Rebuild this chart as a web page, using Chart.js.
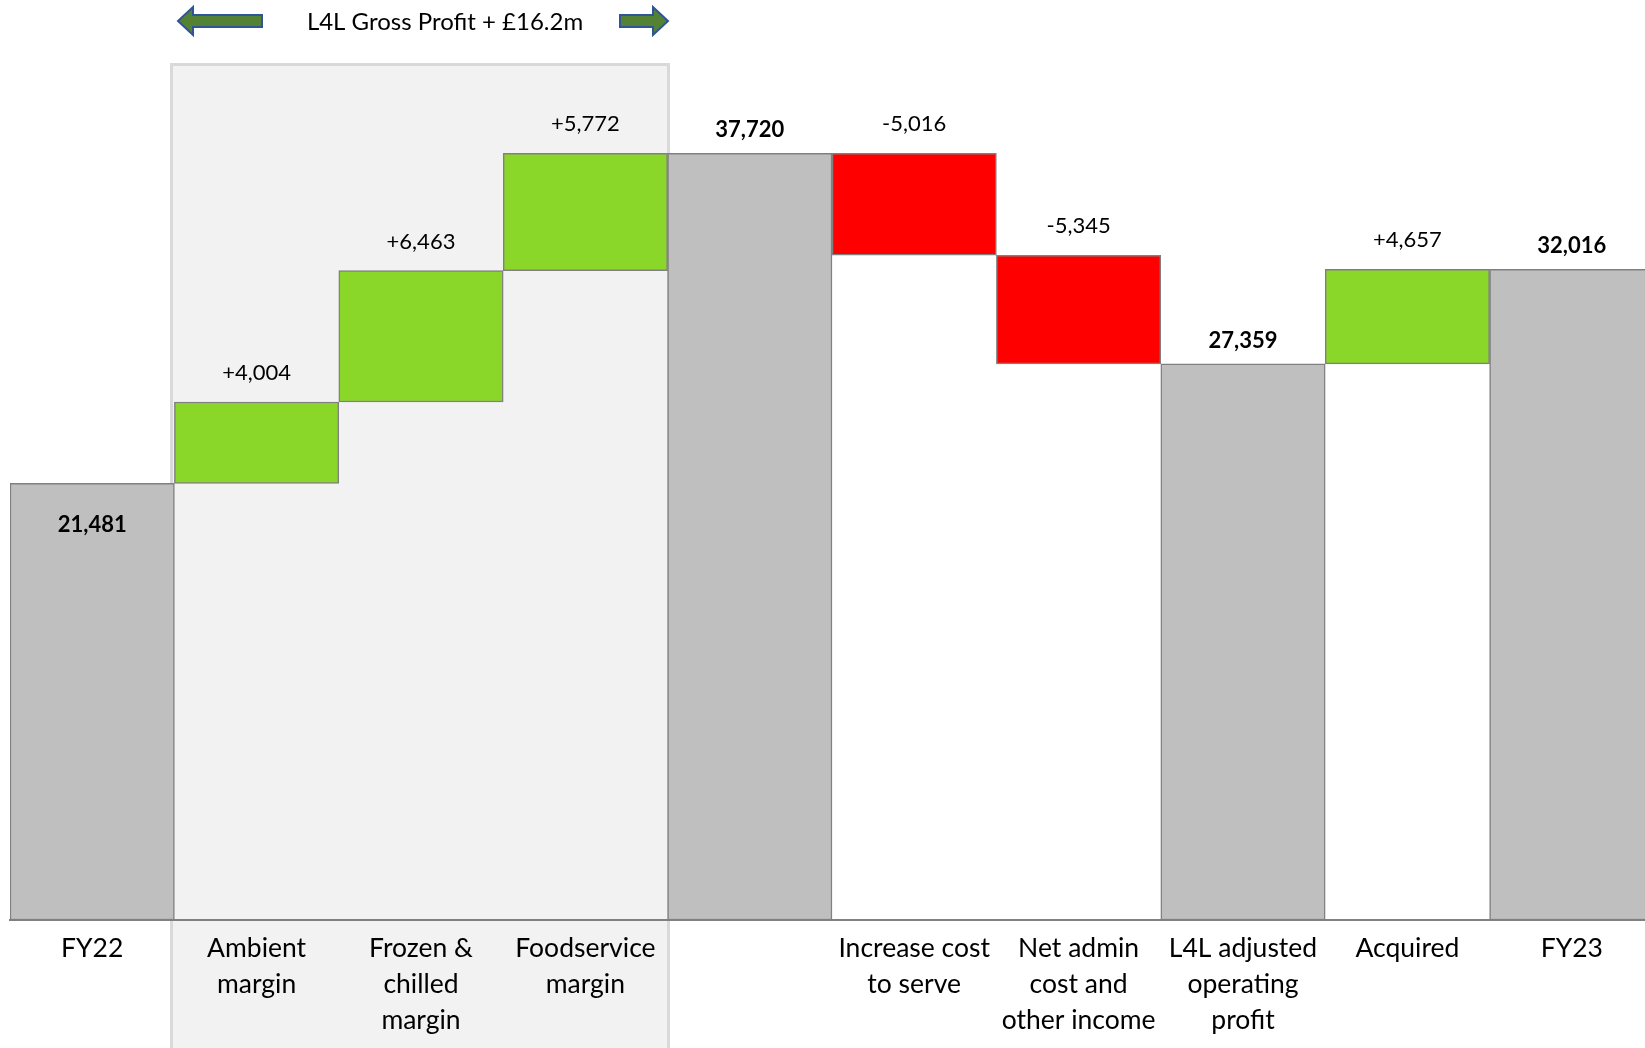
<!DOCTYPE html>
<html>
<head>
<meta charset="utf-8">
<title>Operating profit bridge FY22 to FY23</title>
<script src="https://cdn.jsdelivr.net/npm/chart.js@4.4.1/dist/chart.umd.min.js"></script>
<style>
    html, body { margin: 0; padding: 0; background: #fff; overflow: hidden; }
    #bridge { display: block; }
</style>
</head>
<body>
<canvas id="bridge" width="1660" height="1048"></canvas>
<script>
'use strict'

// bridge categories (multi-line labels as arrays)
const categories = [
    'FY22',
    ['Ambient', 'margin'],
    ['Frozen &', 'chilled', 'margin'],
    ['Foodservice', 'margin'],
    '',
    ['Increase cost', 'to serve'],
    ['Net admin', 'cost and', 'other income'],
    ['L4L adjusted', 'operating', 'profit'],
    'Acquired',
    'FY23'
];

// 'total' bars stand on zero, 'step' bars float from the running total
const kinds = ['total', 'step', 'step', 'step', 'total', 'step', 'step', 'total', 'step', 'total'];
const values = [21481, 4004, 6463, 5772, 37720, -5016, -5345, 27359, 4657, 32016];

const headline = 'L4L Gross Profit + £16.2m';

const colours = {
    total: '#bfbfbf',
    up: '#8ad629',
    down: '#ff0000',
    edge: '#808080'
};


// build [start, end] pairs for the floating bars
let running = 0;
const ranges = [];
const fills = [];
for (let i = 0; i < values.length; i++) {
    if (kinds[i] === 'total') {
        running = values[i];
        ranges.push([0, values[i]]);
        fills.push(colours.total);
    } else {
        ranges.push([running, running + values[i]]);
        running += values[i];
        fills.push(values[i] >= 0 ? colours.up : colours.down);
    }
}

function fmt(v, signed) {
    const s = Math.abs(v).toLocaleString('en-GB');
    if (!signed) return s;
    return (v < 0 ? '-' : '+') + s;
}


// light grey panel behind the gross profit steps, drawn first
const panelPlugin = {
    id: 'panel',
    beforeDraw(chart) {
        const ctx = chart.ctx;
        ctx.save();
        ctx.fillStyle = '#f2f2f2';
        ctx.fillRect(171, 64, 498, chart.height);
        ctx.strokeStyle = '#d9d9d9';
        ctx.lineWidth = 3;
        ctx.strokeRect(171.5, 64.5, 497, chart.height + 10);
        ctx.restore();
    }
};

function arrow(ctx, tail, tip, cy) {
    const dir = tip > tail ? 1 : -1;
    const headBase = tip - dir * 15;
    ctx.beginPath();
    ctx.moveTo(tail, cy - 6);
    ctx.lineTo(headBase, cy - 6);
    ctx.lineTo(headBase, cy - 14);
    ctx.lineTo(tip, cy);
    ctx.lineTo(headBase, cy + 14);
    ctx.lineTo(headBase, cy + 6);
    ctx.lineTo(tail, cy + 6);
    ctx.closePath();
    ctx.fillStyle = '#548235';
    ctx.fill();
    ctx.strokeStyle = '#2f5597';
    ctx.lineWidth = 2;
    ctx.stroke();
}

// value labels on the bars + the headline with arrows
const labelPlugin = {
    id: 'barLabels',
    afterDatasetsDraw(chart) {
        const ctx = chart.ctx;
        const bars = chart.getDatasetMeta(0).data;
        ctx.save();
        ctx.textAlign = 'center';
        ctx.textBaseline = 'middle';
        ctx.fillStyle = '#000';

        bars.forEach((bar, i) => {
            const top = Math.min(bar.y, bar.base);
            if (kinds[i] === 'total') {
                ctx.font = 'bold 22px Lato';
                const y = i === 0 ? top + 42 : top - 23;
                ctx.fillText(fmt(values[i], false), bar.x, y);
            } else {
                ctx.font = '22px Lato';
                ctx.fillText(fmt(values[i], true), bar.x, top - 29);
            }
        });

        ctx.font = '24px Lato';
        ctx.fillText(headline, 445, 22);
        arrow(ctx, 262, 178, 21);
        arrow(ctx, 620, 668, 21);
        ctx.restore();
    }
};


const ctx = document.getElementById('bridge').getContext('2d');

new Chart(ctx, {
    type: 'bar',
    data: {
        labels: categories,
        datasets: [{
            data: ranges,
            backgroundColor: fills,
            borderColor: colours.edge,
            borderWidth: 1.5,
            borderSkipped: false,
            categoryPercentage: 1,
            barPercentage: 1
        }]
    },
    options: {
        responsive: false,
        animation: false,
        layout: {
            padding: { left: 10, right: 6, top: 0, bottom: 0 }
        },
        plugins: {
            legend: { display: false },
            tooltip: { enabled: false }
        },
        scales: {
            x: {
                grid: { display: false, drawTicks: false },
                border: { display: true, color: '#808080', width: 2 },
                ticks: {
                    color: '#000',
                    font: { family: 'Lato', size: 26.5, lineHeight: 36 / 26.5 },
                    padding: 10,
                    autoSkip: false,
                    maxRotation: 0,
                    minRotation: 0
                },
                afterFit(scale) {
                    scale.height = 128;
                }
            },
            y: {
                display: false,
                min: 0,
                max: 45260
            }
        }
    },
    plugins: [panelPlugin, labelPlugin]
});
</script>
</body>
</html>
